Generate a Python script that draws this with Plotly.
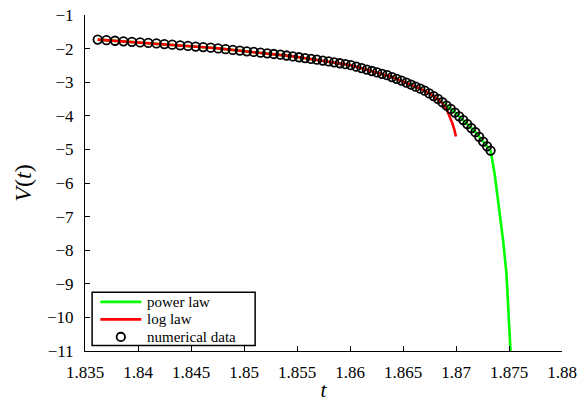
import plotly.graph_objects as go

# numerical data (circles)
t_data = [1.83620, 1.83702, 1.83783, 1.83863, 1.83942, 1.84020, 1.84097, 1.84174,
          1.84249, 1.84323, 1.84398, 1.84471, 1.84544, 1.84615, 1.84686, 1.84756,
          1.84826, 1.84894, 1.84961, 1.85027, 1.85092, 1.85156, 1.85219, 1.85281,
          1.85343, 1.85402, 1.85461, 1.85519, 1.85576, 1.85633, 1.85688, 1.85744,
          1.85798, 1.85851, 1.85904, 1.85957, 1.86008, 1.86059, 1.86109, 1.86159,
          1.86207, 1.86256, 1.86303, 1.86350, 1.86396, 1.86441, 1.86486, 1.86532,
          1.86576, 1.86619, 1.86663, 1.86705, 1.86747, 1.86789, 1.86830, 1.86871,
          1.86911, 1.86951, 1.86990, 1.87030, 1.87069, 1.87107, 1.87145, 1.87183,
          1.87219, 1.87256, 1.87293, 1.87326]
V_data = [-1.732, -1.749, -1.766, -1.782, -1.799, -1.815, -1.831, -1.847,
          -1.866, -1.884, -1.902, -1.921, -1.939, -1.956, -1.973, -1.994,
          -2.016, -2.038, -2.059, -2.080, -2.100, -2.121, -2.141, -2.160,
          -2.180, -2.206, -2.232, -2.257, -2.282, -2.307, -2.331, -2.356,
          -2.381, -2.409, -2.436, -2.464, -2.493, -2.538, -2.581, -2.625,
          -2.667, -2.710, -2.751, -2.792, -2.847, -2.900, -2.953, -3.010,
          -3.071, -3.132, -3.192, -3.251, -3.333, -3.413, -3.495, -3.596,
          -3.697, -3.795, -3.904, -4.017, -4.127, -4.245, -4.364, -4.487,
          -4.627, -4.767, -4.909, -5.036]

# log law: coincides with the data, then bends down near t = 1.870
log_tail_t = [1.86829, 1.86867, 1.86911, 1.86942, 1.86966, 1.86985, 1.86999]
log_tail_V = [-3.501, -3.606, -3.806, -4.015, -4.224, -4.418, -4.618]
t_log = t_data[:54] + log_tail_t
V_log = V_data[:54] + log_tail_V

# power law: coincides with the data, then plunges past -11
pow_tail_t = [1.87347, 1.87366, 1.87402, 1.87444, 1.87476, 1.87495, 1.87510, 1.87519]
pow_tail_V = [-5.403, -5.761, -6.657, -7.701, -8.696, -9.693, -10.687, -11.284]
t_pow = t_data + pow_tail_t
V_pow = V_data + pow_tail_V

x_ticks = [1.835, 1.84, 1.845, 1.85, 1.855, 1.86, 1.865, 1.87, 1.875, 1.88]
x_ticklabels = ["1.835", "1.84", "1.845", "1.85", "1.855", "1.86", "1.865", "1.87", "1.875", "1.88"]
y_ticks = [-1, -2, -3, -4, -5, -6, -7, -8, -9, -10, -11]

legend_names = ["power law", "log law", "numerical data"]
legend_colors = ["#00ff00", "#ff0000", "black"]

SERIF = "Liberation Serif"

fig = go.Figure()
fig.add_trace(go.Scatter(x=t_pow, y=V_pow, mode="lines", name=legend_names[0],
                         line=dict(color=legend_colors[0], width=2.6)))
fig.add_trace(go.Scatter(x=t_log, y=V_log, mode="lines", name=legend_names[1],
                         line=dict(color=legend_colors[1], width=2.6)))
fig.add_trace(go.Scatter(x=t_data, y=V_data, mode="markers", name=legend_names[2],
                         marker=dict(symbol="circle-open", size=8.5, color="black",
                                     line=dict(width=1.8, color="black"))))

# compact legend box (bottom-left), drawn in paper coordinates
box = dict(x0=0.0149, x1=0.3567, y0=0.0164, y1=0.1746)
row_y = [0.1463, 0.0940, 0.0418]
fig.add_shape(type="rect", xref="paper", yref="paper", **box,
              line=dict(color="black", width=1.5), fillcolor="white", layer="above")
for i, name in enumerate(legend_names):
    if i < 2:
        fig.add_shape(type="line", xref="paper", yref="paper",
                      x0=0.0322, x1=0.1181, y0=row_y[i], y1=row_y[i],
                      line=dict(color=legend_colors[i], width=2.6), layer="above")
    else:
        fig.add_shape(type="circle", xref="paper", yref="paper",
                      xsizemode="pixel", ysizemode="pixel",
                      xanchor=0.0751, yanchor=row_y[i],
                      x0=-4.2, x1=4.2, y0=-4.2, y1=4.2,
                      line=dict(color="black", width=1.8), layer="above")
    fig.add_annotation(x=0.1279, y=row_y[i], xref="paper", yref="paper",
                       xanchor="left", yanchor="middle", showarrow=False, borderpad=0,
                       text=name, font=dict(family=SERIF, size=15, color="black"))

fig.update_layout(
    width=584, height=402,
    margin=dict(l=85, r=22, t=15, b=51),
    paper_bgcolor="white", plot_bgcolor="white",
    font=dict(family=SERIF, size=17, color="black"),
    showlegend=False,
)
fig.update_xaxes(range=[1.835, 1.88], tickvals=x_ticks, ticktext=x_ticklabels,
                 ticks="inside", ticklen=5, tickcolor="black", tickwidth=1,
                 showline=True, linecolor="black", linewidth=1, mirror=False,
                 showgrid=False, zeroline=False, ticklabelstandoff=6, automargin=False,
                 tickfont=dict(family=SERIF, size=17),
                 title=dict(text="<i>t</i>", font=dict(family=SERIF, size=21), standoff=15))
fig.update_yaxes(range=[-11, -1], tickvals=y_ticks,
                 ticks="inside", ticklen=5, tickcolor="black", tickwidth=1,
                 showline=True, linecolor="black", linewidth=1, mirror=False,
                 showgrid=False, zeroline=False, ticklabelstandoff=7, automargin=False,
                 tickfont=dict(family=SERIF, size=17),
                 title=dict(text="<i>V</i>(<i>t</i>)", font=dict(family=SERIF, size=24), standoff=8))

fig.write_html("out.html", config={"displayModeBar": False},
               post_script="document.body.style.margin='0';document.body.style.padding='0';")
